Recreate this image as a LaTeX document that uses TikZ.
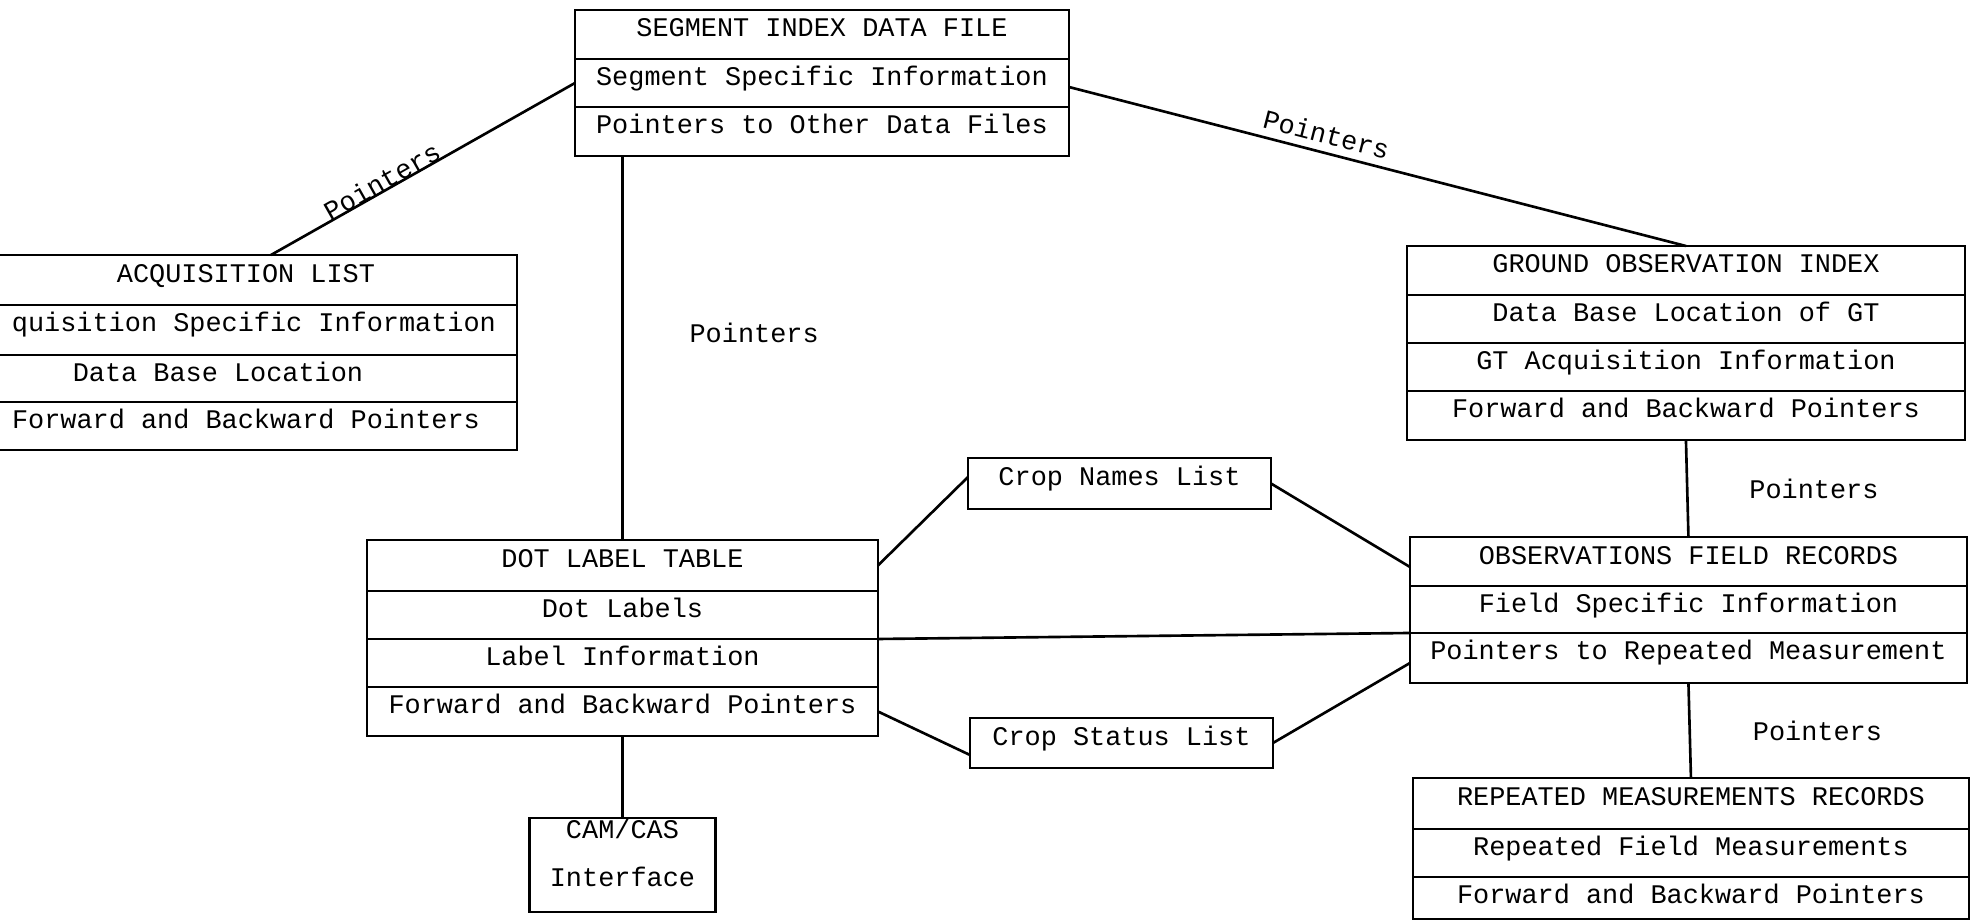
\documentclass[tikz,border=0pt]{standalone}
\usepackage{fontspec}
\setmonofont{Liberation Mono}
\usepackage{tikz}
\usetikzlibrary{positioning}

\newcommand{\recfont}{\ttfamily\fontsize{15.3}{27.2}\selectfont}
\tikzset{
  rec/.style={draw, line width=1.5pt, outer sep=0pt, inner sep=0pt,
    text height=0.54cm, text depth=#1, font=\recfont},
  rec/.default=0.42cm,
  lnk/.style={line width=1.5pt},
  ptr/.style={font=\recfont}
}

\begin{document}
\begin{tikzpicture}[x=0.02cm, y=-0.02cm]
\useasboundingbox (0,0) rectangle (1977,923);
\clip (0,0) rectangle (1977,923);

% segment index
\node[rec=0.44cm, minimum width=9.88cm, anchor=north west] (seg1) at (575,10) {SEGMENT INDEX DATA FILE};
\node[rec, minimum width=9.88cm, below=0pt of seg1] (seg2) {Segment Specific Information};
\node[rec=0.44cm, minimum width=9.88cm, below=0pt of seg2] (seg3) {Pointers to Other Data Files};

% acquisition list
\node[rec=0.46cm, minimum width=10.84cm, anchor=north west] (acq1) at (-25,255) {ACQUISITION LIST};
\node[rec=0.46cm, minimum width=10.84cm, below=0pt of acq1] (acq2) {\hspace*{0.32cm}quisition Specific Information};
\node[rec=0.4cm, minimum width=10.84cm, below=0pt of acq2] (acq3) {Data Base Location\hspace*{1.12cm}};
\node[rec, minimum width=10.84cm, below=0pt of acq3] (acq4) {Forward and Backward Pointers};

% ground observation index
\node[rec=0.44cm, minimum width=11.16cm, anchor=north west] (goi1) at (1407,246) {GROUND OBSERVATION INDEX};
\node[rec, minimum width=11.16cm, below=0pt of goi1] (goi2) {Data Base Location of GT};
\node[rec, minimum width=11.16cm, below=0pt of goi2] (goi3) {GT Acquisition Information};
\node[rec=0.44cm, minimum width=11.16cm, below=0pt of goi3] (goi4) {Forward and Backward Pointers};

% dot label table
\node[rec=0.48cm, minimum width=10.22cm, anchor=north west] (dot1) at (367,540) {DOT LABEL TABLE};
\node[rec, minimum width=10.22cm, below=0pt of dot1] (dot2) {Dot Labels};
\node[rec, minimum width=10.22cm, below=0pt of dot2] (dot3) {Label Information};
\node[rec=0.44cm, minimum width=10.22cm, below=0pt of dot3] (dot4) {Forward and Backward Pointers};

% cam/cas
\node[rec=1.46cm, text height=0.42cm, minimum width=3.72cm, below=1.64cm of dot4] (cam)
  {\parbox[t]{3.4cm}{\centering CAM/CAS\\Interface}};

% crop lists
\node[rec=0.48cm, minimum width=6.06cm, anchor=north west] (names) at (968,458) {Crop Names List};
\node[rec=0.46cm, minimum width=6.06cm, anchor=north west] (status) at (970,718) {Crop Status List};

% field records
\node[rec=0.44cm, minimum width=11.14cm, anchor=north west] (ofr1) at (1410,537) {OBSERVATIONS FIELD RECORDS};
\node[rec=0.4cm, minimum width=11.14cm, below=0pt of ofr1] (ofr2) {Field Specific Information};
\node[rec=0.46cm, minimum width=11.14cm, below=0pt of ofr2] (ofr3) {Pointers to Repeated Measurement};

% repeated measurements
\node[rec=0.48cm, minimum width=11.12cm, anchor=north west] (rmr1) at (1413,778) {REPEATED MEASUREMENTS RECORDS};
\node[rec, minimum width=11.12cm, below=0pt of rmr1] (rmr2) {Repeated Field Measurements};
\node[rec=0.3cm, minimum width=11.12cm, below=0pt of rmr2] (rmr3) {Forward and Backward Pointers};

% links
\draw[lnk] ([xshift=0.5cm]acq1.north) -- node[ptr, sloped, anchor=base, pos=0.38] {Pointers} (seg2.west);
\draw[lnk] ([yshift=-0.08cm]seg2.east) -- node[ptr, sloped, above, pos=0.41, inner sep=4pt] {Pointers} (goi1.north);
\draw[lnk] (dot1.north |- seg3.south) -- node[ptr, right=1.2cm, pos=0.46] {Pointers} (dot1.north);
\draw[lnk] (goi4.south) -- node[ptr, right=1.1cm] {Pointers} (ofr1.north);
\draw[lnk] (ofr3.south) -- node[ptr, right=1.12cm] {Pointers} (rmr1.north);
\draw[lnk] (dot4.south) -- (cam.north);
\draw[lnk] (dot1.east) -- ([yshift=0.13cm]names.west);
\draw[lnk] (names.east) -- ([yshift=-0.11cm]ofr1.west);
\draw[lnk] (dot2.south east) -- (ofr2.south west);
\draw[lnk] (dot4.east) -- ([yshift=-0.24cm]status.west);
\draw[lnk] (status.east) -- ([yshift=-0.1cm]ofr3.west);

\end{tikzpicture}
\end{document}
